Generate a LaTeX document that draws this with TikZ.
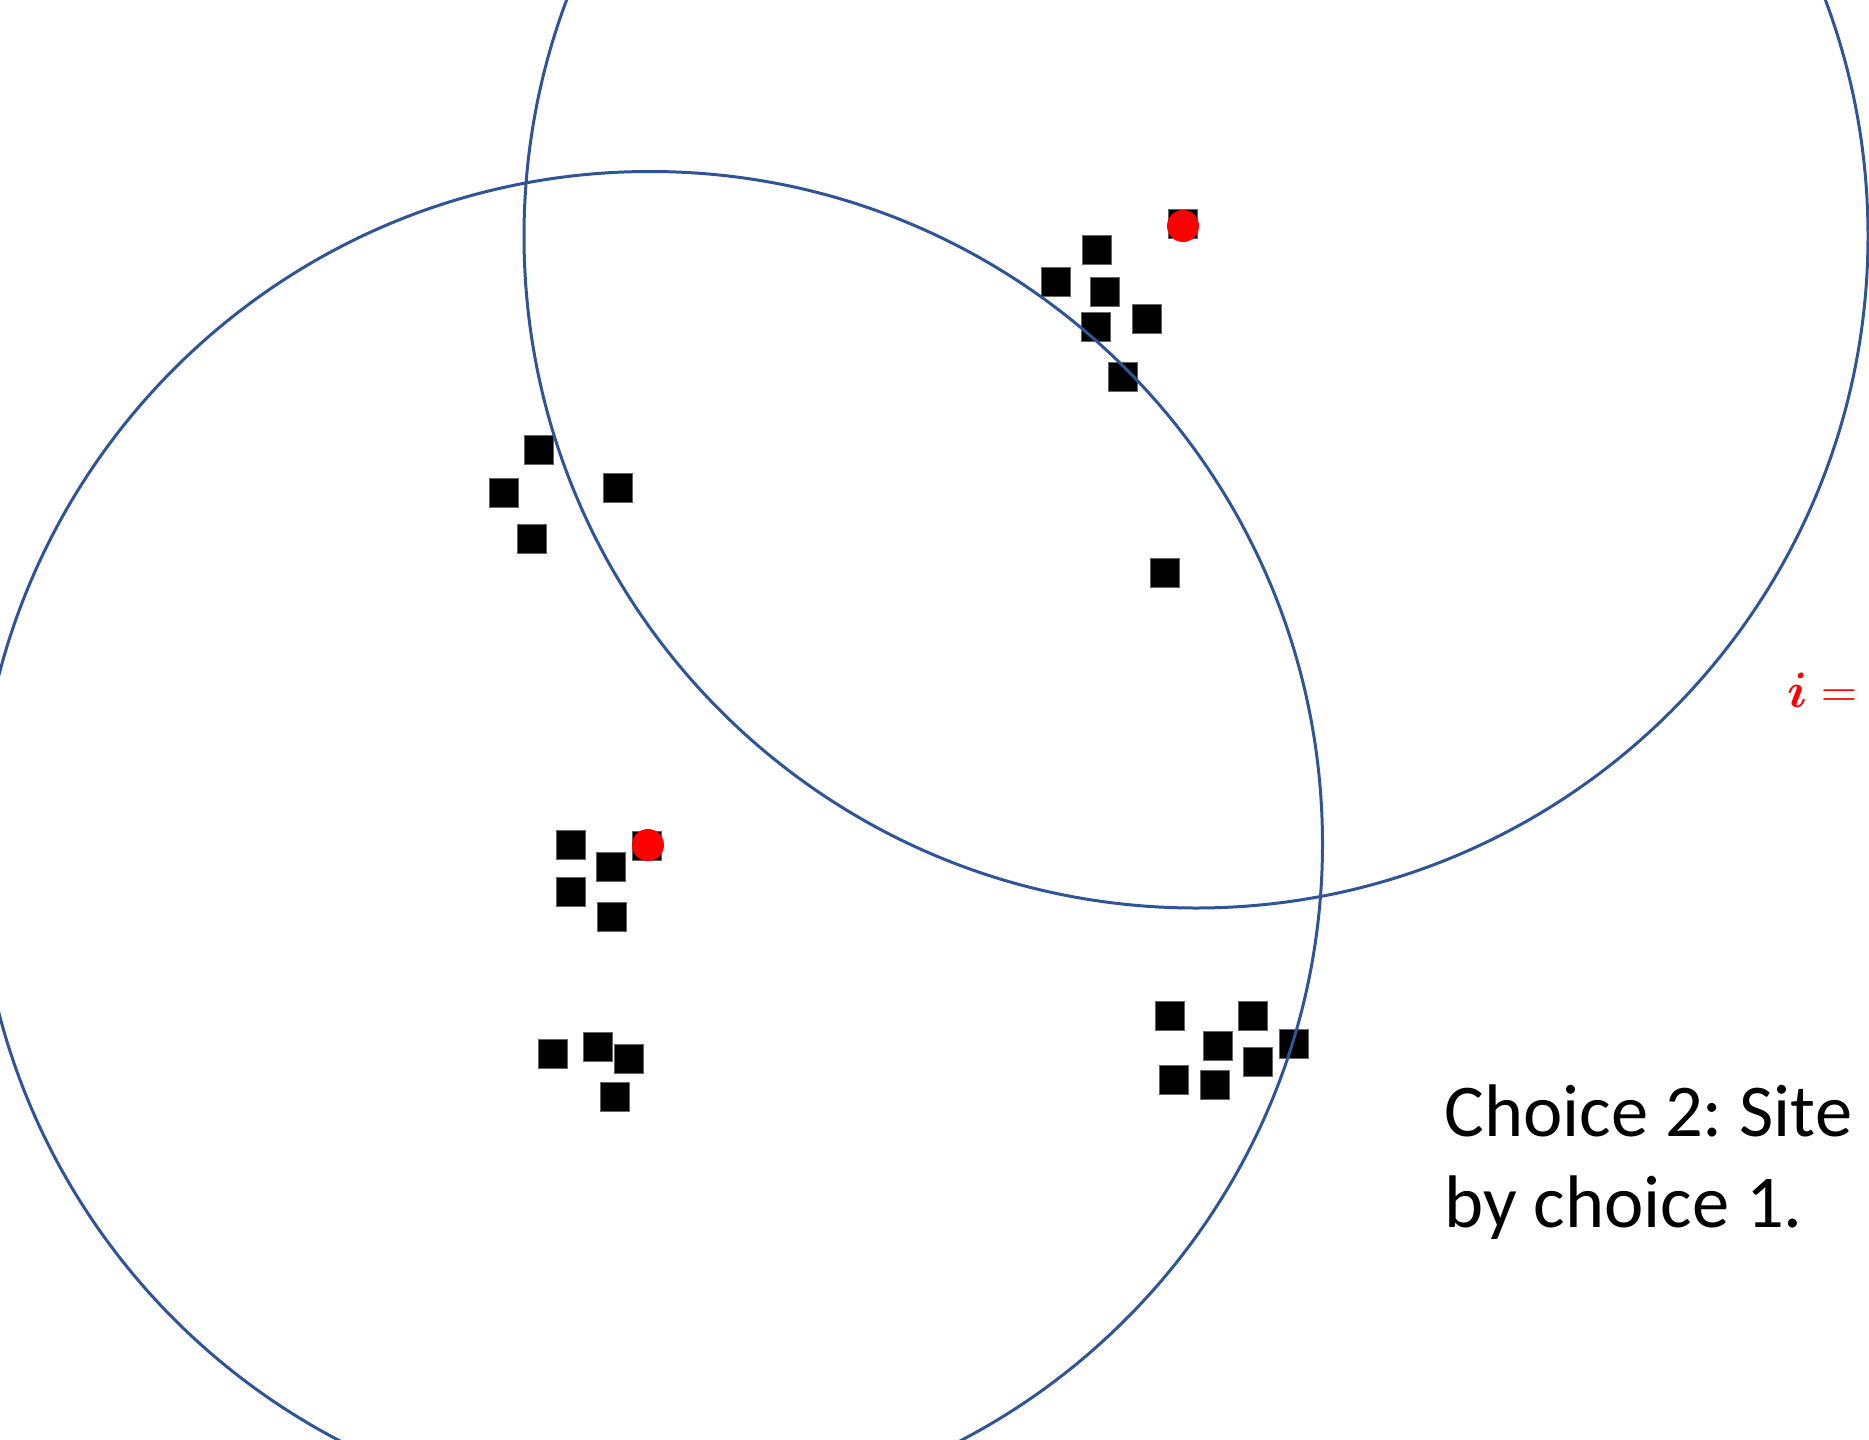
\documentclass[tikz,border=0pt]{standalone}
\usepackage{fontspec}
\usepackage{amsmath}
\newfontfamily\calibrifont{Carlito}
\definecolor{ringblue}{RGB}{47,85,151}
\frenchspacing
\begin{document}
\begin{tikzpicture}[x={(0.5pt,0)}, y={(0,-0.5pt)},
  site/.style={rectangle, fill=black, draw=black!60, line width=0.3pt,
    minimum size=14.5pt, inner sep=0pt},
  centre/.style={circle, fill=red, minimum size=16pt, inner sep=0pt},
  ring/.style={draw=ringblue, line width=1.5pt},
  caption/.style={anchor=base west, inner sep=0pt,
    font=\calibrifont\fontsize{37.25}{40.5}\selectfont}]
\useasboundingbox (0,0) rectangle (1869,1440);
\clip (0,0) rectangle (1869,1440);

% cluster near the upper centre
\node[site] (a1) at (1096.5,250) {};
\node[site] (a2) at (1056,282) {};
\node[site] (a3) at (1104.5,291.5) {};
\node[site] (a4) at (1095.7,327) {};
\node[site] (a5) at (1147,318.5) {};
\node[site] (a6) at (1122.5,377) {};
\node[site] (a7) at (1182.5,223.5) {};
\node[site] (a8) at (1165,573) {};

% cluster on the left
\node[site] (b1) at (538.7,449.7) {};
\node[site] (b2) at (504,493) {};
\node[site] (b3) at (618,487.7) {};
\node[site] (b4) at (531.7,538.7) {};

% cluster around the lower centre
\node[site] (c1) at (570.7,845) {};
\node[site] (c2) at (610.7,866.7) {};
\node[site] (c3) at (570.7,891.5) {};
\node[site] (c4) at (611.3,916.8) {};
\node[site] (c5) at (646.5,846) {};

% cluster at the bottom left
\node[site] (d1) at (553,1053.7) {};
\node[site] (d2) at (598,1046.7) {};
\node[site] (d3) at (629,1058.7) {};
\node[site] (d4) at (615,1096.7) {};

% cluster at the bottom right
\node[site] (e1) at (1170,1016) {};
\node[site] (e2) at (1217.7,1045.7) {};
\node[site] (e3) at (1253,1016) {};
\node[site] (e4) at (1294,1044) {};
\node[site] (e5) at (1257.5,1062) {};
\node[site] (e6) at (1173.7,1079.5) {};
\node[site] (e7) at (1215,1084.7) {};

% covering rings around the two chosen sites
\coordinate (o1) at (650,844);
\coordinate (o2) at (1196,236);
\draw[ring] (o1) circle[radius=336.25pt];
\draw[ring] (o2) circle[radius=336pt];

% chosen sites
\node[centre] (s1) at (648,845) {};
\node[centre] (s2) at (1183,226) {};

% labels
\node[anchor=base west, inner sep=0pt, text=red, font=\fontsize{24}{28}\selectfont]
  (idx) at (1787,707) {$\boldsymbol{i} = 2$};
\node[caption] (t1) at (1444,1136) {Choice 2: Site};
\node[caption] (t2) at (1444,1227) {by choice 1.};
\end{tikzpicture}
\end{document}
